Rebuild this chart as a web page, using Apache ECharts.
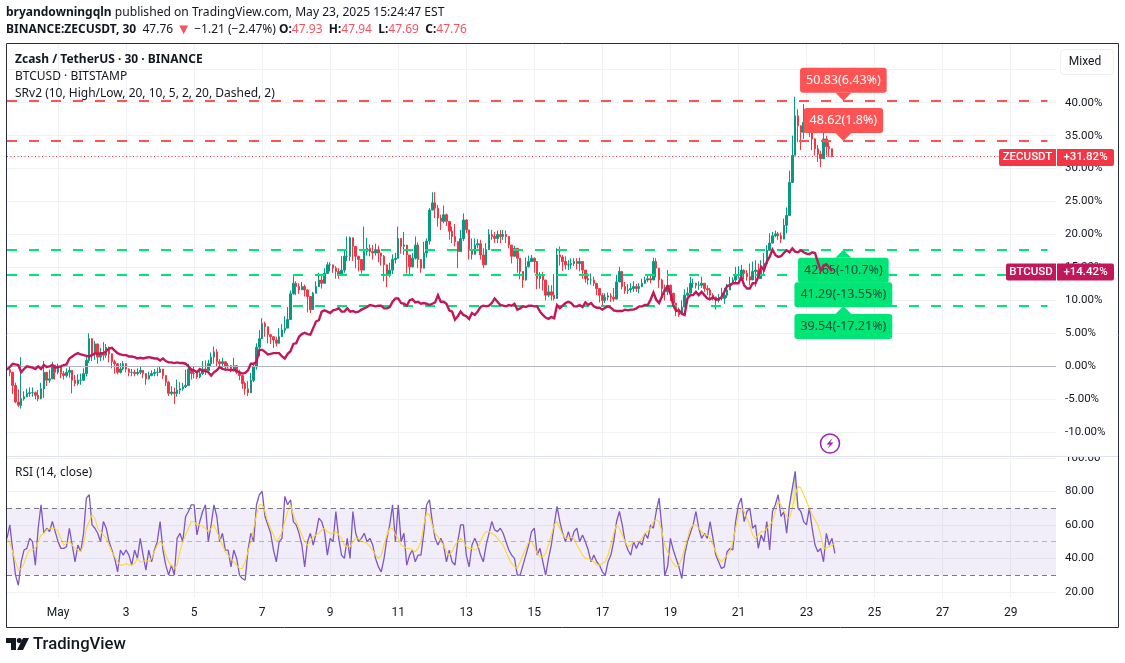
<!DOCTYPE html>
<html>
<head>
<meta charset="UTF-8">
<title>ZECUSDT 30 - TradingView</title>
<script src="https://cdn.jsdelivr.net/npm/echarts@6/dist/echarts.min.js"></script>
<style>
  html, body { margin: 0; padding: 0; background: #fff; }
  #main { width: 1125px; height: 663px; }
</style>
</head>
<body>
<div id="main"></div>
<script type="text/javascript">
// one row per day, 2 hour bars, first row starts Apr 29 12:00, last row is May 23
var zecClose = [
  -0.5,-0.9,-2.9,-5.4,-5.9,-4.9,
  -4.6,-4.1,-4,-4,-4.4,-4.9,-3.4,-0.9,-2.1,-1.9,0.2,-0.9,
  -0.1,-1.1,-1.4,-0.9,-0.6,-2.1,-2.6,-2.1,-2.1,-1.1,0.9,4.2,
  1.9,3.4,1.4,1.9,1.7,2.9,1.9,0.7,0.4,-0.9,-0.4,0.4,
  -0.4,-0.9,-0.9,-1.1,-0.9,-0.6,-1.1,-1.9,-1.4,-1.1,-0.9,-0.9,
  -0.4,-1.4,-2.4,-4.1,-3.9,-4.1,-3.6,-3.4,-3.1,-2.9,-0.4,-1.1,
  -1.1,-1.6,-1.1,-0.4,-0.6,0.4,1.4,2.2,0.7,0.4,0.7,-0.1,
  0.1,-0.4,0.1,-0.9,-1.4,-2.6,-3.4,-4,-2.1,-0.1,2.9,4.2,
  6.5,6,4.8,4.5,4,3.5,4.5,5.5,5.8,7.1,11,12.6,
  12.1,11.6,12.1,11.6,10.6,8.6,11.1,12.1,13.1,12.6,14.1,15.4,
  15.4,14.9,14.4,13.9,14.6,16.7,16.7,19.5,18.2,16.7,16.2,14.6,
  17.4,17.9,17.4,17.2,17.7,17.2,16.7,15.4,13.9,14.6,16.2,16.4,
  19.4,18.2,18.4,16.9,15.1,16.4,18.4,16.2,14.9,17.2,19,23.7,
  24.8,24,22.5,22,23,22,20.5,19.7,18.9,17.4,19.4,22.2,
  20.7,17.7,17,18.4,18.6,16.9,15.4,17.7,20,19.7,19.4,20,
  19.7,20,19.7,18.4,16.7,17.9,16.4,14.4,13.1,15.1,15.9,16.4,
  15.9,13.3,13.9,13.1,10.8,11.3,10.8,10.3,16.9,16.6,15.9,15.4,
  15.4,15.6,15.9,15.6,15.9,14.6,13.3,13.1,13.1,12.6,11.8,10.8,
  10,10.5,10.7,10.5,10.2,12.8,14.4,12.1,11.5,11.6,11.8,12.1,
  11.8,12.1,12.6,13.1,13.3,13.1,15.9,14.9,13.1,11.8,11.3,12.3,
  11.1,9.6,8.3,7.8,9,10.8,11.1,12.6,12.6,12.3,12.3,12.6,
  11.8,11.6,10.8,10.5,10,10.3,10.3,10.8,11.6,12.6,13.1,13.9,
  13.9,14.6,14.1,13.6,13.1,14.4,14.6,13.3,14.6,15.6,17.6,18.7,
  19.8,20.1,19.8,19.3,21.4,22.9,27.9,32,38,36.5,35.5,37,
  38.3,36.3,34.5,33,32.2,31.5,34.5,33.3,33,31.82
];
var zecHigh = [
  -0.2,-0.3,-0.8,-2.5,-3.5,1.4,
  -3.8,-3.4,-3.2,-3.2,-3.8,-3.6,-2.5,0.8,-1,-0.5,0.7,0,
  0.4,-0.2,-0.7,-0.3,0,-0.6,-1.3,-1.2,-1.1,-0.3,1.6,5,
  3.5,3.8,3,2.8,3.7,3.4,3,1.8,1,0,0.5,0.8,
  0.2,-0.3,-0.4,-0.5,-0.3,0,-0.6,-1,-0.8,-0.6,-0.4,-0.2,
  0,-0.4,-1.5,-2.2,-3,-3.2,-2,-2.4,-2.5,-0.5,0.4,-0.3,
  -0.1,-0.9,-0.3,0.8,0.9,1,2.1,3,2.6,1.1,1.3,0.4,
  0.5,0.2,1.3,0,-0.5,-1.5,-2.3,-2.2,-1,0.3,3.5,5.5,
  7.3,6.8,5.3,4.5,4,4.5,5.8,6.4,7.6,9,11.5,13.9,
  12.9,12.6,12.8,12.4,11.7,10.5,11.3,12.9,14.2,13.9,14.9,15.8,
  15.8,15.4,15.2,14.9,16.7,17.5,19.7,19.7,18.8,16.9,16.6,15.9,
  21.2,19.5,18.5,18.4,18.6,18.3,17,16.9,14.9,15.7,17,17.2,
  21.2,19.2,20.4,18,16.9,17.2,19.7,18.8,15.8,18.9,19.4,24,
  26.4,26.4,24.5,23,24.4,23.2,21.7,21.2,21.6,18.2,20.7,23.2,
  22.3,20.5,19.4,19.4,19.3,19.2,17.9,18.7,20.8,20.7,20.4,20.6,
  20.7,20.7,20.6,19.7,18.2,18.3,17.4,15.4,14.4,16.5,16.8,16.9,
  16.5,14.5,14.3,14.3,11.8,12.3,12.3,14,17.9,18.2,16.9,16.7,
  16.1,16.4,16.4,16.4,16.5,15.4,14.5,14.1,14.1,13.6,12.6,11.9,
  11.1,11.1,11.2,11.1,11.9,13.9,15.1,13,12.8,12.5,12.6,12.9,
  12.5,12.6,13.3,13.6,13.8,13.7,16.5,16.4,14.9,13.3,12.4,14.6,
  12.4,11.1,9.1,8.9,10,11.7,12,13.6,13.3,12.7,12.9,13.6,
  12.6,12.3,11.9,11.1,10.6,11,11.9,11.9,12.5,13.6,13.5,15.1,
  15.2,15.4,14.7,14.6,15.6,15.9,16.1,15.6,16.1,17.2,18.4,20.2,
  20.4,20.6,20.4,20.3,22.4,24.1,29.7,35,40.9,39,35.9,39.8,
  38.9,38.3,36.7,34.6,33.6,32.7,35.7,35,34,32.8
];
var zecLow = [
  -1,-1.5,-4.2,-5.6,-6.2,-6.4,
  -5.2,-4.7,-4.6,-4.6,-5,-5.3,-5,-4.8,-3,-2.5,-1.2,-2,
  -1.2,-1.8,-2,-1.7,-1.7,-4.1,-3,-2.9,-2.8,-2.2,-1.5,0.5,
  0.8,1,0.4,0.8,0.9,1.3,0.6,-0.3,-1.1,-1.2,-1.1,-0.6,
  -0.9,-1.5,-1.5,-1.5,-1.4,-1.2,-1.8,-2.8,-2,-1.5,-1.5,-1.5,
  -1,-1.9,-3,-4.5,-4.4,-5.7,-4.6,-4.2,-3.7,-3.3,-3,-2,
  -1.8,-1.9,-1.8,-1.3,-1.3,-0.8,0,0.4,0,-0.3,-0.2,-0.7,
  -0.3,-0.9,-0.8,-1.2,-2.1,-3.4,-4.3,-4.5,-2.4,-2.4,-0.5,1.5,
  4.5,4.5,3.5,3.4,2.8,3,4,4.5,5,6.8,8,10.9,
  10.8,11,11.6,10.6,8.2,8.1,10.4,11.2,12.2,11.8,12.8,14.1,
  14.4,14.2,13.3,13.3,13.8,14.2,16,16,16,14.9,14.4,14.1,
  16.4,16.8,16.7,16.2,16.8,15.8,15.3,12.9,12,13.5,14,15.6,
  17.4,17.1,16.9,14.1,14,15,16.2,14.9,14.2,16.3,16.5,18.5,
  23.7,22.5,21.2,20.7,21.7,21.3,19.2,18.7,18.2,14.9,17.4,19,
  20.2,16.2,16.2,17.7,17.9,16.2,14.9,16.2,17.7,19.2,18.7,18.7,
  18.7,19.2,18.7,17.9,15.6,17.2,14.2,13.2,11.9,13,15,15.9,
  14.2,11.7,11.8,11.5,10,10.5,10,10,14,15.3,14.5,14.7,
  14.6,14.8,15.2,14.7,14.4,13.3,12.7,12.4,12.4,12.2,10.8,9.7,
  9.2,9.6,10,9.8,9.8,10.8,12.8,11.7,11,11,11.2,11.3,
  11.3,11.1,12,12.5,12.8,12.6,13.3,13.5,11.9,10.2,10,10.8,
  9.9,8.8,7.6,7.5,8.7,9.6,10.6,11.8,11.9,11.8,11.6,11.9,
  11.3,10.8,10,10,8.6,9.7,10,9.5,10.4,11.9,12.5,12.8,
  13.3,13.6,13.2,13,12.3,13.9,12.1,13.6,13.5,13.9,15.9,17.6,
  19.4,19.6,19.2,18.7,20.7,20.2,22.8,27.9,32,34,32.8,34.5,
  36.9,34.8,32.8,32,31,30.2,31.5,32,31.8,31.7
];
var btcLine = [
  -0.5,-0.1,0.4,0.3,0.2,-0.9,
  -0.4,0,-0.1,-0.2,-0.4,0,-0.4,0.2,-0.1,0,0.2,-0.2,
  -0.1,0,0.2,0.3,1.2,1.5,1.8,2,1.8,1.7,1.6,1.5,
  1.7,2,1.9,2,2,2.3,2.7,2.8,2.4,2,1.8,1.7,
  1.7,1.5,1.5,1.4,1.2,1.3,1.2,1.3,1.4,1.3,1.2,1.2,
  0.9,1.2,0.8,0.6,0.6,0.5,0.6,0.5,0.5,0.4,0,-0.5,
  -0.6,-0.9,-0.4,-0.7,-0.7,-0.9,-1.4,-0.9,-0.6,-0.1,-0.4,-0.5,
  -0.5,-0.6,-0.5,-0.7,-0.9,-1.1,-1,-0.6,0.4,0.4,0.7,2.5,
  2.5,2.2,1.8,1.9,2,2,2,1.5,1.2,1.9,2.3,3.4,
  3.5,4.5,4.9,5.1,4.9,4.8,5.8,6.8,7,8.3,8.5,8.3,
  8.1,8.5,8.6,8.8,8.3,8.3,8.8,8.3,8.4,8.2,8.3,8.6,
  8.8,9,9.3,9.2,9.1,9.2,9.2,8.8,8.8,9,9.8,10.3,
  10.3,9.6,9.5,9.2,10,10.2,9.7,9.8,9.5,9.6,9.5,9.3,
  9.5,9.7,10.8,9.8,9.8,9.5,8.5,8.3,7.1,7.6,8.3,7.8,
  7.6,7.2,8.1,7.8,8.3,9,9.2,9.1,9.2,9.6,10.3,9.8,
  9.3,9.2,9.1,9.3,9.2,9.5,8.6,8.8,9.1,9,9.2,9.2,
  9.1,9.1,8.3,7.8,7.4,7.2,7.5,7.3,9.3,8.8,9.2,9.6,
  9.8,9.6,9.1,9.1,9.3,9,9.7,9.3,9.6,9.1,8.9,8.9,
  8.6,8.9,9.1,8.9,8.5,8.4,8.4,8.4,8.6,8.5,8.6,8.6,
  8.8,9.1,9.1,9.3,9.3,10.1,11.2,10.1,9.6,10.6,11.6,12.1,
  11.1,9.3,8.4,8.5,8,7.8,10.3,10.8,10.8,11.3,10.8,11.3,
  10.8,10.3,10.2,10.5,10.1,10.2,10.5,11.3,12.2,12.3,12.6,12.6,
  12.6,13.6,12.3,11.8,11.8,12.6,12.6,13.6,15.1,14.6,15.9,16.6,
  17.7,16.9,16.6,16.7,17.2,17.6,17.3,17.9,17.4,17.3,17.6,17.3,
  17.1,17,17.3,17.2,15.8,14.5,15.3,15.5,15,14.42
];
var rsiLine = [
  52,60,45,30,24,38,
  45,46,52,50,36,58,72,55,58,56,62,56,
  50,46,46,47,58,48,38,48,44,55,76,78,
  60,58,55,50,62,58,50,45,40,32,45,42,
  45,42,36,45,40,52,42,33,45,38,45,50,
  62,45,36,30,36,30,52,55,50,65,68,72,
  72,54,62,68,72,50,60,72,65,50,55,45,
  45,35,45,40,30,28,27,45,55,50,72,78,
  80,65,60,55,45,38,50,52,77,72,75,62,
  60,55,48,35,50,55,48,55,64,62,56,42,
  52,50,68,52,42,40,52,40,68,55,50,52,
  55,50,52,48,40,35,32,40,52,60,72,50,
  72,50,55,36,42,45,38,42,42,55,72,75,
  62,52,48,52,48,38,45,38,36,50,60,60,
  42,35,48,52,48,42,38,48,55,62,57,56,
  58,55,50,45,42,40,30,30,36,42,48,56,
  58,42,46,38,30,40,48,60,71,62,55,50,
  56,50,56,58,50,54,50,45,38,42,38,36,
  32,30,38,42,50,62,68,60,50,45,42,50,
  46,50,48,55,52,60,58,68,76,58,30,35,
  52,45,40,35,28,42,50,55,60,68,58,52,
  55,52,62,52,42,38,34,35,44,46,45,62,
  72,76,62,68,70,58,60,46,54,50,62,45,
  68,72,78,65,68,55,72,82,92,70,68,62,
  60,70,58,48,44,46,38,55,48,52,43
];
var rsiMa = [
  52,49,44,38,33,34,
  37,42,45,45,46,50,54,55,57,58,58,58,
  56,52,48,49,50,48,46,45,44,48,58,62,
  66,64,58,56,54,52,48,44,41,38,36,36,
  37,36,36,37,40,38,38,39,38,40,44,48,
  50,48,42,38,36,34,36,44,50,54,58,62,
  62,60,60,59,58,56,58,60,56,52,48,44,
  42,40,38,36,34,34,38,44,50,58,66,72,
  72,68,62,58,54,50,52,56,62,68,72,66,
  62,58,54,50,48,50,53,54,55,57,58,56,
  55,55,56,54,52,48,47,47,50,52,52,50,
  50,49,47,45,42,40,42,48,54,58,58,54,
  52,48,47,46,46,45,44,46,50,60,67,66,
  60,55,53,50,48,44,42,44,48,50,52,50,
  47,46,46,45,46,50,54,56,56,55,54,52,
  50,48,44,40,37,35,34,38,42,46,50,50,
  47,43,41,41,43,48,54,60,62,58,54,52,
  52,53,52,48,45,42,40,40,39,38,36,36,
  37,38,42,48,55,60,58,54,50,47,48,50,
  50,50,52,55,56,58,62,63,62,56,48,44,
  40,37,35,36,40,46,52,58,60,60,58,56,
  54,54,52,48,44,40,38,40,42,44,50,58,
  66,70,68,64,60,54,52,54,56,56,58,60,
  62,68,74,72,68,65,64,70,78,83,82,78,
  74,70,66,63,60,54,46,46,47,48,49
];
// overbought part of the RSI, shaded down to the 70 band
var rsiFillStart = 275;
var rsiFill = [70, 72, 82, 92, 70];

var resistLevels = [40.3, 34.2];
var resistTexts = ['50.83(6.43%)', '48.62(1.8%)'];
var supportLevels = [17.7, 13.97, 9.14];
var supportTexts = ['42.65(-10.7%)', '41.29(-13.55%)', '39.54(-17.21%)'];
var tagBar = 295;
var levelEndBar = 367;

var pctTicks = [-10, -5, 0, 5, 10, 15, 20, 25, 30, 35, 40, 45];
var pctLabels = [-10, -5, 0, 5, 10, 15, 20, 25, 30, 35, 40];
var rsiTicks = [20, 40, 60, 80, 100];
var lastZec = 31.82;
var lastBtc = 14.42;

// 2 hour slots from Apr 29 12:00 to the right edge of the chart
var barCount = 371;
var categories = [];
for (var i = 0; i < barCount; i++) {
  var d = new Date(Date.UTC(2025, 3, 29, 12 + i * 2));
  categories.push({ month: d.getUTCMonth(), day: d.getUTCDate(), hour: d.getUTCHours() });
}
var catNames = categories.map(function (c, i) { return String(i); });

function isDayTick(index) {
  var c = categories[index];
  return c.month === 4 && c.hour === 0 && c.day % 2 === 1;
}

var candleData = zecClose.map(function (c, i) {
  var open = i === 0 ? -0.3 : zecClose[i - 1];
  return [open, c, zecLow[i], zecHigh[i]];
});

var rsiFillData = catNames.map(function (n, i) {
  var v = rsiFill[i - rsiFillStart];
  return v === undefined ? null : v;
});

var FONT = 'Roboto, "Noto Sans", sans-serif';
var TEXT_FONT = '"Noto Sans", Roboto, sans-serif';
var GRID_LINE = '#f0f1f5';

function levelLine(level, color) {
  return [
    { coord: ['0', level], lineStyle: { color: color } },
    { coord: [String(levelEndBar), level] }
  ];
}

function tagSeries(name, levels, texts, color, textColor, rotate, offset, pos) {
  return {
    name: name,
    type: 'scatter',
    z: 3,
    silent: true,
    symbol: 'triangle',
    symbolSize: [16, 8],
    symbolRotate: rotate,
    symbolOffset: [0, offset],
    itemStyle: { color: color, opacity: 1 },
    label: {
      show: true,
      position: pos,
      distance: 0,
      formatter: '{b}',
      color: textColor,
      fontFamily: TEXT_FONT,
      fontSize: 12.5,
      lineHeight: 25,
      padding: [0, 6],
      backgroundColor: color,
      borderRadius: 3
    },
    data: levels.map(function (lv, i) {
      return { name: texts[i], value: [String(tagBar), lv] };
    })
  };
}

var myChart = echarts.init(document.getElementById('main'));
var option = {
  animation: false,
  backgroundColor: '#ffffff',
  textStyle: { fontFamily: FONT },
  title: [
    {
      text: '{b|bryandowningqln} published on TradingView.com, May 23, 2025 15:24:47 EST',
      left: 6, top: 4, padding: 0,
      textStyle: { fontSize: 12.1, fontWeight: 'normal', color: '#131722', fontFamily: TEXT_FONT, lineHeight: 18,
        rich: { b: { fontWeight: 'bold', fontSize: 12, color: '#131722', fontFamily: TEXT_FONT } } }
    },
    {
      text: '{b|BINANCE:ZECUSDT, 30}  47.76 {r2|▼} −1.21 (−2.47%) {b|O:}{r|47.93}  {b|H:}{r|47.94}  {b|L:}{r|47.69}  {b|C:}{r|47.76}',
      left: 6, top: 21, padding: 0,
      textStyle: { fontSize: 12, fontWeight: 'normal', color: '#131722', fontFamily: TEXT_FONT, lineHeight: 18,
        rich: {
          b: { fontWeight: 'bold', fontSize: 12, color: '#131722', fontFamily: TEXT_FONT },
          r: { color: '#f7525f', fontSize: 12, fontFamily: TEXT_FONT },
          r2: { color: '#f7525f', fontSize: 15, fontFamily: TEXT_FONT }
        } }
    },
    { text: 'Zcash / TetherUS · 30 · BINANCE', left: 15, top: 54, padding: 0,
      textStyle: { fontSize: 12, fontWeight: 'bold', color: '#131722', fontFamily: TEXT_FONT } },
    { text: 'BTCUSD · BITSTAMP', left: 15, top: 71, padding: 0,
      textStyle: { fontSize: 12, fontWeight: 'normal', color: '#131722', fontFamily: TEXT_FONT } },
    { text: 'SRv2 (10, High/Low, 20, 10, 5, 2, 20, Dashed, 2)', left: 15, top: 88, padding: 0,
      textStyle: { fontSize: 12, fontWeight: 'normal', color: '#131722', fontFamily: TEXT_FONT } },
    { text: 'RSI (14, close)', left: 15, top: 467, padding: 0,
      textStyle: { fontSize: 12, fontWeight: 'normal', color: '#131722', fontFamily: TEXT_FONT } }
  ],
  grid: [
    { left: 7, right: 69, top: 44, height: 412 },
    { left: 7, right: 69, top: 457, height: 141 }
  ],
  xAxis: [
    {
      type: 'category', gridIndex: 0, data: catNames, boundaryGap: false,
      axisLine: { show: false }, axisTick: { show: false }, axisLabel: { show: false },
      splitLine: { show: true, interval: isDayTick, lineStyle: { color: GRID_LINE } }
    },
    {
      type: 'category', gridIndex: 1, data: catNames, boundaryGap: false,
      axisLine: { show: false }, axisTick: { show: false },
      axisLabel: {
        interval: isDayTick, margin: 9, color: '#131722', fontSize: 12, fontFamily: FONT,
        formatter: function (v, index) {
          var c = categories[index];
          return c.day === 1 ? 'May' : String(c.day);
        }
      },
      splitLine: { show: true, interval: isDayTick, lineStyle: { color: GRID_LINE } }
    }
  ],
  yAxis: [
    {
      type: 'value', gridIndex: 0, position: 'right', min: -13.6, max: 48.9,
      axisLine: { show: false },
      axisTick: { show: false, customValues: pctTicks },
      axisLabel: {
        customValues: pctLabels, margin: 9, color: '#131722', fontSize: 11.5, fontFamily: FONT,
        padding: [5, 0, 0, 0],
        formatter: function (v) { return v.toFixed(2) + '%'; }
      },
      splitLine: { show: true, lineStyle: { color: GRID_LINE } }
    },
    {
      type: 'value', gridIndex: 1, position: 'right', min: 16.4, max: 100.5,
      axisLine: { show: false },
      axisTick: { show: false, customValues: rsiTicks },
      axisLabel: {
        customValues: rsiTicks, margin: 9, color: '#131722', fontSize: 11.5, fontFamily: FONT,
        padding: [5, 0, 0, 0],
        formatter: function (v) { return v.toFixed(2); }
      },
      splitLine: { show: true, lineStyle: { color: GRID_LINE } }
    }
  ],
  series: [
    {
      name: 'SRv2',
      type: 'line',
      z: 1,
      data: [],
      silent: true,
      markLine: {
        silent: true, symbol: 'none', animation: false, label: { show: false },
        lineStyle: { type: [10, 12], width: 2 },
        data: [
          levelLine(resistLevels[0], '#ff5252'),
          levelLine(resistLevels[1], '#ff5252'),
          levelLine(supportLevels[0], '#00e676'),
          levelLine(supportLevels[1], '#00e676'),
          levelLine(supportLevels[2], '#00e676')
        ]
      }
    },
    {
      name: 'ZECUSDT',
      type: 'candlestick',
      z: 2,
      barWidth: 2,
      silent: true,
      itemStyle: {
        color: '#089981', color0: '#f23645',
        borderColor: '#089981', borderColor0: '#f23645', borderWidth: 1
      },
      data: candleData,
      markLine: {
        silent: true, symbol: 'none', animation: false, label: { show: false },
        data: [
          { yAxis: 0, lineStyle: { color: '#b2b5be', type: 'solid', width: 1 } },
          { yAxis: lastZec, lineStyle: { color: '#f23645', type: [1, 2.5], width: 1 } }
        ]
      }
    },
    tagSeries('Resistance', resistLevels, resistTexts, '#ff5252', '#ffffff', 180, -4, 'top'),
    tagSeries('Support', supportLevels, supportTexts, '#00e676', '#1c4a38', 0, 4, 'bottom'),
    {
      name: 'BTCUSD',
      type: 'line',
      z: 5,
      silent: true,
      symbol: 'none',
      lineStyle: { color: '#c2185b', width: 2.4, join: 'miter' },
      data: btcLine
    },
    {
      name: 'RSI bands',
      type: 'line',
      xAxisIndex: 1, yAxisIndex: 1,
      z: 1,
      data: [],
      silent: true,
      markArea: {
        silent: true, animation: false,
        itemStyle: { color: 'rgba(126,87,194,0.1)' },
        data: [[{ yAxis: 30 }, { yAxis: 70 }]]
      },
      markLine: {
        silent: true, symbol: 'none', animation: false, label: { show: false },
        data: [
          { yAxis: 70, lineStyle: { color: '#787b86', type: [5, 4], width: 1 } },
          { yAxis: 50, lineStyle: { color: 'rgba(120,123,134,0.5)', type: [5, 4], width: 1 } },
          { yAxis: 30, lineStyle: { color: '#787b86', type: [5, 4], width: 1 } }
        ]
      }
    },
    {
      name: 'RSI overbought',
      type: 'line',
      xAxisIndex: 1, yAxisIndex: 1,
      z: 2,
      silent: true,
      symbol: 'none',
      connectNulls: false,
      lineStyle: { width: 0 },
      areaStyle: {
        origin: 70,
        color: new echarts.graphic.LinearGradient(0, 0, 0, 1, [
          { offset: 0, color: 'rgba(76,175,80,0.75)' },
          { offset: 1, color: 'rgba(255,235,130,0.6)' }
        ])
      },
      data: rsiFillData
    },
    {
      name: 'RSI',
      type: 'line',
      xAxisIndex: 1, yAxisIndex: 1,
      z: 3,
      silent: true,
      symbol: 'none',
      lineStyle: { color: '#7e57c2', width: 1.3 },
      data: rsiLine
    },
    {
      name: 'RSI MA',
      type: 'line',
      xAxisIndex: 1, yAxisIndex: 1,
      z: 4,
      silent: true,
      symbol: 'none',
      lineStyle: { color: '#fdd835', width: 1.1 },
      data: rsiMa
    }
  ]
};
myChart.setOption(option);

// things that sit outside the plot: frame, price tags, logo, button
var yZec = myChart.convertToPixel({ yAxisIndex: 0 }, lastZec) + 0.8;
var yBtc = myChart.convertToPixel({ yAxisIndex: 0 }, lastBtc) + 0.8;

function priceTag(y, name, nameX, text, color) {
  return [
    { type: 'rect', z: 60, shape: { x: nameX, y: y - 8.5, width: 1056 - nameX, height: 17, r: [2, 0, 0, 2] }, style: { fill: color } },
    { type: 'rect', z: 60, shape: { x: 1057, y: y - 8.5, width: 57, height: 17, r: [0, 2, 2, 0] }, style: { fill: color } },
    { type: 'text', z: 61, x: (nameX + 1056) / 2, y: y, style: { text: name, fill: '#fff', font: '500 11.5px ' + FONT, textAlign: 'center', textVerticalAlign: 'middle' } },
    { type: 'text', z: 61, x: 1085.5, y: y, style: { text: text, fill: '#fff', font: '500 11.5px ' + FONT, textAlign: 'center', textVerticalAlign: 'middle' } }
  ];
}

var graphics = [
  // hides the upper half of the 100.00 label like the pane edge does
  { type: 'rect', z: 50, shape: { x: 1058, y: 446, width: 58, height: 10.5 }, style: { fill: '#fff' } },
  { type: 'line', z: 51, shape: { x1: 7, y1: 456.5, x2: 1118, y2: 456.5 }, style: { stroke: '#e0e3eb', lineWidth: 1 } },
  { type: 'rect', z: 70, shape: { x: 6.5, y: 43.5, width: 1112, height: 584 }, style: { fill: 'none', stroke: '#2a2e39', lineWidth: 1 } },
  // Mixed button
  { type: 'rect', z: 60, shape: { x: 1060.5, y: 49.5, width: 53, height: 25, r: 4 }, style: { fill: '#fff', stroke: '#eceef2', lineWidth: 1 } },
  { type: 'text', z: 61, x: 1085, y: 62, style: { text: 'Mixed', fill: '#131722', font: '12px ' + FONT, textAlign: 'center', textVerticalAlign: 'middle' } },
  // lightning badge
  { type: 'circle', z: 60, shape: { cx: 830, cy: 443.5, r: 9.5 }, style: { fill: '#fff', stroke: '#9c27b0', lineWidth: 1.6 } },
  { type: 'polygon', z: 61, shape: { points: [[832.5, 438], [826.5, 444.5], [829.8, 444.5], [827.5, 449], [833.5, 442.5], [830.2, 442.5]] }, style: { fill: '#9c27b0' } },
  // TradingView logo
  { type: 'polygon', z: 60, shape: { points: [[6, 638], [16, 638], [16, 650], [11, 650], [11, 643], [6, 643]] }, style: { fill: '#131722' } },
  { type: 'circle', z: 60, shape: { cx: 19.3, cy: 640.5, r: 2.5 }, style: { fill: '#131722' } },
  { type: 'polygon', z: 60, shape: { points: [[23, 638], [29, 638], [23, 650], [17, 650]] }, style: { fill: '#131722' } },
  { type: 'text', z: 60, x: 33, y: 645, style: { text: 'TradingView', fill: '#131722', font: '500 16.7px ' + FONT, textVerticalAlign: 'middle' } }
];
graphics = graphics.concat(priceTag(yZec, 'ZECUSDT', 999, '+31.82%', '#f23645'));
graphics = graphics.concat(priceTag(yBtc, 'BTCUSD', 1006, '+14.42%', '#c2185b'));
myChart.setOption({ graphic: { elements: graphics } });
</script>
</body>
</html>
